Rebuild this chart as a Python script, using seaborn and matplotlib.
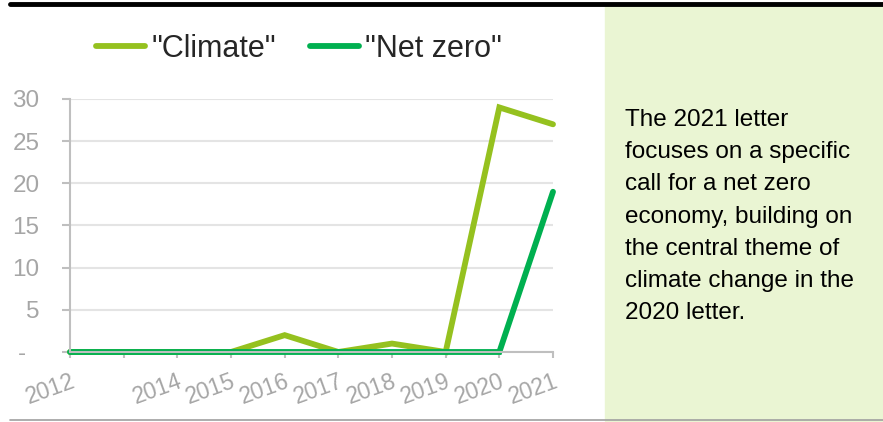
import pandas as pd
import seaborn as sns
import matplotlib.pyplot as plt
from matplotlib.patches import Rectangle
from matplotlib.lines import Line2D

years = ['2012', '2013', '2014', '2015', '2016', '2017', '2018', '2019', '2020', '2021']
year_labels = ['2012', '', '2014', '2015', '2016', '2017', '2018', '2019', '2020', '2021']
climate = [0, 0, 0, 0, 2, 0, 1, 0, 29, 27]
net_zero = [0, 0, 0, 0, 0, 0, 0, 0, 0, 19]
terms = ['"Climate"', '"Net zero"']
y_ticks = [0, 5, 10, 15, 20, 25, 30]
y_labels = ['-  ', '5', '10', '15', '20', '25', '30']
note = ("The 2021 letter\nfocuses on a specific\ncall for a net zero\n"
        "economy, building on\nthe central theme of\nclimate change in the\n2020 letter.")

colors = ['#95C11F', '#00B050']
axis_grey = '#BFBFBF'
label_grey = '#A6A6A6'

sns.set_theme(style='white')
plt.rcParams['font.family'] = ['Liberation Sans', 'DejaVu Sans']

df = pd.DataFrame({
    'year': years * 2,
    'mentions': climate + net_zero,
    'term': [terms[0]] * len(years) + [terms[1]] * len(years),
})

W, H = 883, 422
fig = plt.figure(figsize=(W / 100, H / 100), dpi=100)
ax = fig.add_axes([70 / W, 1 - 352 / H, (553 - 70) / W, (352 - 99) / H])

# side panel and rules
fig.patches.append(Rectangle((605 / W, 1 / H), (W - 605) / W, 416 / H,
                             transform=fig.transFigure, color='#EAF5D3', zorder=0))
fig.lines.append(Line2D([10 / W, 1], [1 - 4 / H] * 2, transform=fig.transFigure,
                        color='black', lw=3.5))
fig.lines.append(Line2D([10 / W, 1], [1 - 420 / H] * 2, transform=fig.transFigure,
                        color='#A0A0A0', lw=1.2))

sns.lineplot(data=df, x='year', y='mentions', hue='term', palette=colors,
             linewidth=4.2, ax=ax, legend=False, sort=False)
for ln in ax.get_lines():
    ln.set_clip_on(False)
    ln.set_solid_joinstyle('miter')

ax.set_xlim(0, 9)
ax.set_ylim(0, 30)
ax.set_xticks(range(len(years)))
ax.set_xticklabels(year_labels, rotation=20, ha='right', rotation_mode='anchor')
ax.set_yticks(y_ticks)
ax.set_yticklabels(y_labels)
ax.set_xlabel('')
ax.set_ylabel('')

ax.yaxis.grid(True, color='#E4E4E4', lw=1.5)
ax.set_axisbelow(True)
for side in ['top', 'right']:
    ax.spines[side].set_visible(False)
for side in ['left', 'bottom']:
    ax.spines[side].set_color(axis_grey)
    ax.spines[side].set_linewidth(1.5)
ax.tick_params(axis='y', length=6, width=1.5, color=axis_grey, labelcolor=label_grey,
               labelsize=17.5, pad=16, left=True)
ax.tick_params(axis='x', length=4, width=1.5, color=axis_grey, labelcolor=label_grey,
               labelsize=16.5, pad=9, bottom=True)

handles = [Line2D([], [], color=c, lw=4.2) for c in colors]
ax.legend(handles, terms, loc='center', bbox_to_anchor=(299 / W, 1 - 49 / H),
          bbox_transform=fig.transFigure, ncol=2, frameon=False, fontsize=22,
          handlelength=1.6, handletextpad=0.2, columnspacing=1.1)

fig.text(625 / W, 1 - 109 / H, note, va='top', ha='left', fontsize=17.5,
         color='black', linespacing=1.6)

fig.savefig('out.png', dpi=100)
